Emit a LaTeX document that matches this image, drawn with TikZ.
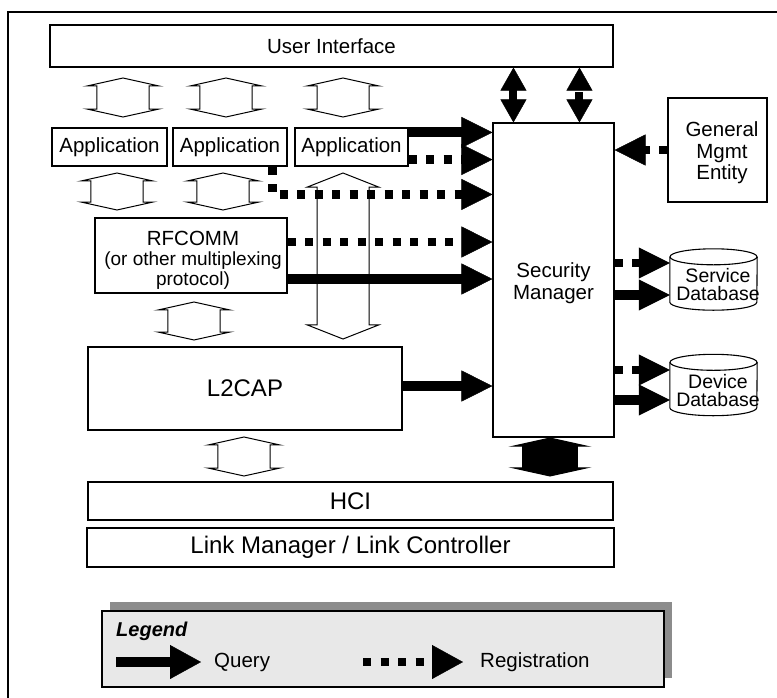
\documentclass[tikz,border=0pt]{standalone}
\usepackage{fontspec}
\setmainfont{Liberation Sans}
\usetikzlibrary{arrows.meta,shapes.arrows}
\definecolor{legendfill}{RGB}{232,232,232}
\definecolor{shadowgray}{RGB}{140,140,140}
\tikzstyle{blk}=[draw, line width=1.1pt, inner sep=0pt, align=center, font=\fontsize{20.5pt}{22pt}\selectfont]
\tikzstyle{bigblk}=[blk, font=\fontsize{24pt}{26pt}\selectfont]
\tikzstyle{txt}=[inner sep=0pt, align=center, font=\fontsize{20.5pt}{21.5pt}\selectfont]
\tikzstyle{dbnode}=[inner sep=0pt, minimum width=87pt, minimum height=61pt]
\tikzstyle{dbtext}=[inner sep=0pt, align=center, font=\fontsize{19.5pt}{18pt}\selectfont]
\tikzset{query/.style={line width=10pt, -{Triangle[length=31pt,width=31pt,line width=0.4pt]}}}
\tikzset{regist/.style={line width=8.5pt, dash pattern=on 8pt off 9.5pt, -{Triangle[length=31pt,width=31pt,line width=0.4pt]}}}
\tikzset{qboth/.style={line width=8pt, {Triangle[length=23pt,width=26pt,line width=0.4pt]}-{Triangle[length=23pt,width=26pt,line width=0.4pt]}}}
\tikzset{rboth/.style={qboth, dash pattern=on 8pt off 9pt}}
\tikzset{hollow/.style={double arrow, draw, fill=white, line width=1pt, rotate=90, inner sep=0pt, inner ysep=18pt, minimum width=72pt, double arrow tip angle=155}}

\begin{document}
\begin{tikzpicture}[x=1pt,y=-1pt]
  \useasboundingbox (0,0) rectangle (777,697);
  \draw[line width=2pt] (8,700) -- (8,12) -- (780,12);

  %% Layers
  \node[blk, minimum width=563pt, minimum height=42pt] (ui) at (331.5,46) {User Interface};
  \node[blk, minimum width=115pt, minimum height=38pt] (app1) at (109.5,147) {Application};
  \node[blk, minimum width=114pt, minimum height=38pt] (app2) at (230,147) {Application};
  \node[blk, minimum width=113pt, minimum height=38pt] (app3) at (351.5,147) {Application};
  \node[blk, minimum width=192pt, minimum height=75pt] (rf) at (191,255.5) {};
  \node[txt, font=\fontsize{19pt}{20pt}\selectfont] (rft) at ([xshift=2pt,yshift=-5pt]rf.center)
    {{\fontsize{20.5pt}{20pt}\selectfont RFCOMM}\\(or other multiplexing\\protocol)};
  \node[bigblk, minimum width=314pt, minimum height=83pt] (l2cap) at (245,388.5) {L2CAP};
  \node[bigblk, minimum width=525pt, minimum height=38pt] (hci) at (350.5,501) {HCI};
  \node[bigblk, minimum width=527pt, minimum height=39pt] (lmlc) at (350.5,547.5) {Link Manager / Link Controller};
  \node[blk, minimum width=121pt, minimum height=314pt] (sm) at (553.5,280) {};
  \node[txt] (smt) at ([yshift=-3pt]sm.center) {Security\\Manager};
  \node[blk, minimum width=99pt, minimum height=104pt] (gme) at (717.5,150) {};
  \node[txt] (gmet) at ([xshift=4.5pt,yshift=-3pt]gme.center) {General\\Mgmt\\Entity};

  %% Databases
  \node[dbnode] (sdb) at (713.5,279.5) {};
  \node[dbnode] (ddb) at (713.5,385) {};
  \foreach \db in {sdb,ddb}{
    \draw[line width=1.1pt] ([yshift=-8pt]\db.north west) -- ([yshift=8pt]\db.south west)
      arc[start angle=180, end angle=360, x radius=43.5pt, y radius=8pt] -- ([yshift=-8pt]\db.north east);
    \draw[line width=1.1pt] ([yshift=-8pt]\db.north) ellipse[x radius=43.5pt, y radius=8pt];
  }
  \node[dbtext] (sdbt) at ([xshift=4.5pt,yshift=-5.5pt]sdb.center) {Service\\Database};
  \node[dbtext] (ddbt) at ([xshift=4.5pt,yshift=-5.5pt]ddb.center) {Device\\Database};

  %% Data paths between layers
  \node[hollow, minimum height=39pt] (h1) at (123,97.5) {};
  \node[hollow, minimum height=39pt] (h2) at (226,97.5) {};
  \node[hollow, minimum height=39pt] (h3) at (343,97.5) {};
  \node[hollow, minimum height=37pt] (h4) at (117,191.5) {};
  \node[hollow, minimum height=37pt] (h5) at (223,191.5) {};
  \node[hollow, minimum height=166pt, double arrow tip angle=137] (h6) at (343,256) {};
  \node[hollow, minimum height=38pt] (h7) at (194,321) {};
  \node[hollow, minimum height=39pt] (h8) at (244,456.5) {};
  \node[hollow, fill=black, inner ysep=20pt, minimum width=74pt, minimum height=38pt] (h9) at (550,457) {};

  %% Into the security manager
  \coordinate (a3q) at ([yshift=-5pt]app3.north east);
  \coordinate (a3r) at ([yshift=7pt]app3.south east);
  \coordinate (a2r) at ([xshift=-15pt]app2.south east);
  \coordinate (smr) at ([yshift=-72pt]sm.north west);
  \coordinate (rfr) at ([yshift=13.5pt]rf.east);
  \coordinate (rfq) at ([yshift=-23.5pt]rf.east);
  \coordinate (l2q) at ([yshift=2.5pt]l2cap.east);
  \draw[query] (a3q) -- (a3q -| sm.west);
  \draw[regist] (a3r) -- (a3r -| sm.west);
  \draw[regist] (a2r) |- (smr);
  \draw[regist] (rfr) -- (rfr -| sm.west);
  \draw[query] (rfq) -- (rfq -| sm.west);
  \draw[query] (l2q) -- (l2q -| sm.west);
  \draw[regist] (gme.west) -- (gme.west -| sm.east);

  \coordinate (sm1) at ([xshift=21pt]sm.north west);
  \coordinate (sm2) at ([xshift=87pt]sm.north west);
  \draw[qboth] (sm1) -- (sm1 |- ui.south);
  \draw[rboth] (sm2) -- (sm2 |- ui.south);

  %% Out to the databases
  \coordinate (s1) at ([yshift=16.5pt]sdb.west);
  \coordinate (s2) at ([yshift=-15.5pt]sdb.west);
  \coordinate (d1) at ([yshift=15pt]ddb.west);
  \coordinate (d2) at ([yshift=-15pt]ddb.west);
  \draw[regist] (s1 -| sm.east) -- (s1);
  \draw[query] (s2 -| sm.east) -- (s2);
  \draw[regist] (d1 -| sm.east) -- (d1);
  \draw[query] (d2 -| sm.east) -- (d2);

  %% Legend
  \fill[shadowgray] (110,602) rectangle (672,678);
  \node[draw, line width=1.1pt, fill=legendfill, minimum width=562pt, minimum height=76pt] (legend) at (383,649) {};
  \node[anchor=west, inner sep=0pt, font=\bfseries\itshape\fontsize{20pt}{22pt}\selectfont] (leg) at (116,631) {Legend};
  \coordinate (q0) at (116,662);
  \coordinate (q1) at (201,662);
  \coordinate (r0) at (363,662);
  \coordinate (r1) at (463,662);
  \draw[query, -{Triangle[length=31pt,width=34pt,line width=0.4pt]}] (q0) -- (q1);
  \draw[regist, -{Triangle[length=31pt,width=34pt,line width=0.4pt]}] (r0) -- (r1);
  \node[anchor=west, inner sep=0pt, font=\fontsize{20.5pt}{22pt}\selectfont] (qtxt) at (214,662) {Query};
  \node[anchor=west, inner sep=0pt, font=\fontsize{20.5pt}{22pt}\selectfont] (rtxt) at (480,662) {Registration};
\end{tikzpicture}
\end{document}
